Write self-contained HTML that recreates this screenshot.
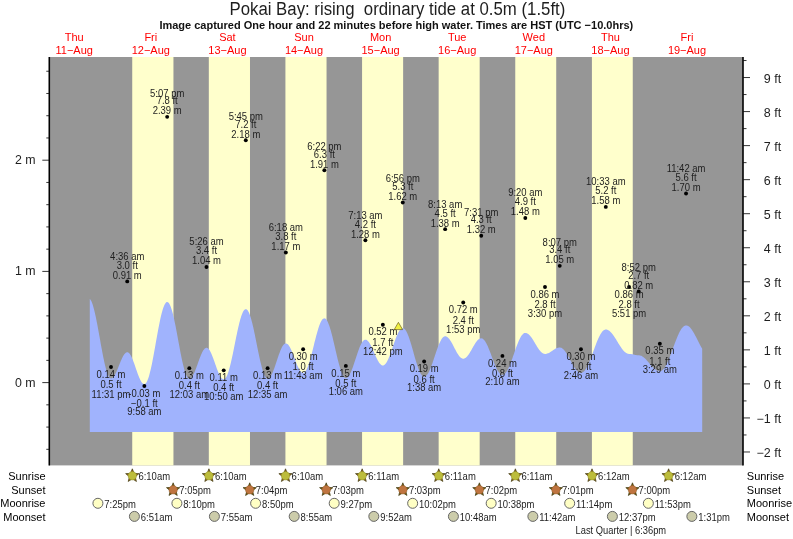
<!DOCTYPE html><html><head><meta charset="utf-8"><style>
html,body{margin:0;padding:0;background:#fff;width:793px;height:539px;overflow:hidden}
svg{display:block;will-change:transform}text{font-family:"Liberation Sans",sans-serif}
</style></head><body>
<svg width="793" height="539" viewBox="0 0 793 539" fill="#1e1e1e">
<rect width="793" height="539" fill="#fff"/>
<text transform="translate(397.40,14.50) scale(1.0,1.04)" font-size="16.8" text-anchor="middle" >Pokai Bay: rising &#160;ordinary tide at 0.5m (1.5ft)</text>
<text x="396.3" y="28.9" font-size="11" font-weight="bold" text-anchor="middle" fill="#111">Image captured One hour and 22 minutes before high water. Times are HST (UTC −10.0hrs)</text>
<text x="74.2" y="41.4" font-size="11" text-anchor="middle" fill="#f00">Thu</text>
<text x="74.2" y="53.9" font-size="11" text-anchor="middle" fill="#f00">11−Aug</text>
<text x="150.8" y="41.4" font-size="11" text-anchor="middle" fill="#f00">Fri</text>
<text x="150.8" y="53.9" font-size="11" text-anchor="middle" fill="#f00">12−Aug</text>
<text x="227.4" y="41.4" font-size="11" text-anchor="middle" fill="#f00">Sat</text>
<text x="227.4" y="53.9" font-size="11" text-anchor="middle" fill="#f00">13−Aug</text>
<text x="304.0" y="41.4" font-size="11" text-anchor="middle" fill="#f00">Sun</text>
<text x="304.0" y="53.9" font-size="11" text-anchor="middle" fill="#f00">14−Aug</text>
<text x="380.6" y="41.4" font-size="11" text-anchor="middle" fill="#f00">Mon</text>
<text x="380.6" y="53.9" font-size="11" text-anchor="middle" fill="#f00">15−Aug</text>
<text x="457.2" y="41.4" font-size="11" text-anchor="middle" fill="#f00">Tue</text>
<text x="457.2" y="53.9" font-size="11" text-anchor="middle" fill="#f00">16−Aug</text>
<text x="533.8" y="41.4" font-size="11" text-anchor="middle" fill="#f00">Wed</text>
<text x="533.8" y="53.9" font-size="11" text-anchor="middle" fill="#f00">17−Aug</text>
<text x="610.4" y="41.4" font-size="11" text-anchor="middle" fill="#f00">Thu</text>
<text x="610.4" y="53.9" font-size="11" text-anchor="middle" fill="#f00">18−Aug</text>
<text x="687.0" y="41.4" font-size="11" text-anchor="middle" fill="#f00">Fri</text>
<text x="687.0" y="53.9" font-size="11" text-anchor="middle" fill="#f00">19−Aug</text>
<rect x="49.3" y="57" width="693.7" height="408.4" fill="#969696"/>
<rect x="132.23" y="57" width="41.22" height="408.4" fill="#ffffcc"/>
<rect x="208.82" y="57" width="41.17" height="408.4" fill="#ffffcc"/>
<rect x="285.42" y="57" width="41.12" height="408.4" fill="#ffffcc"/>
<rect x="362.07" y="57" width="41.06" height="408.4" fill="#ffffcc"/>
<rect x="438.66" y="57" width="41.01" height="408.4" fill="#ffffcc"/>
<rect x="515.26" y="57" width="40.96" height="408.4" fill="#ffffcc"/>
<rect x="591.91" y="57" width="40.85" height="408.4" fill="#ffffcc"/>
<polygon points="89.8,432.0 89.80,298.86 90.30,299.42 90.80,300.17 91.30,301.12 91.80,302.24 92.30,303.55 92.80,305.02 93.30,306.66 93.80,308.45 94.30,310.39 94.80,312.47 95.30,314.67 95.80,316.99 96.30,319.42 96.80,321.94 97.30,324.54 97.80,327.21 98.30,329.93 98.80,332.69 99.30,335.48 99.80,338.29 100.30,341.09 100.80,343.89 101.30,346.65 101.80,349.37 102.30,352.04 102.80,354.64 103.30,357.17 103.80,359.59 104.30,361.92 104.80,364.13 105.30,366.21 105.80,368.15 106.30,369.95 106.80,371.59 107.30,373.07 107.80,374.38 108.30,375.51 108.80,376.45 109.30,377.21 109.80,377.78 110.30,378.16 110.80,378.33 111.30,378.33 111.80,378.20 112.30,377.94 112.80,377.57 113.30,377.08 113.80,376.48 114.30,375.78 114.80,374.98 115.30,374.09 115.80,373.11 116.30,372.06 116.80,370.95 117.30,369.79 117.80,368.58 118.30,367.34 118.80,366.09 119.30,364.82 119.80,363.57 120.30,362.32 120.80,361.11 121.30,359.93 121.80,358.80 122.30,357.74 122.80,356.74 123.30,355.83 123.80,355.00 124.30,354.27 124.80,353.65 125.30,353.13 125.80,352.73 126.30,352.44 126.80,352.28 127.30,352.23 127.80,352.32 128.30,352.54 128.80,352.89 129.30,353.37 129.80,353.98 130.30,354.70 130.80,355.54 131.30,356.48 131.80,357.52 132.30,358.65 132.80,359.86 133.30,361.14 133.80,362.48 134.30,363.87 134.80,365.29 135.30,366.74 135.80,368.20 136.30,369.66 136.80,371.11 137.30,372.53 137.80,373.92 138.30,375.26 138.80,376.53 139.30,377.74 139.80,378.87 140.30,379.91 140.80,380.85 141.30,381.68 141.80,382.40 142.30,383.00 142.80,383.47 143.30,383.82 143.80,384.04 144.30,384.12 144.80,384.04 145.30,383.77 145.80,383.31 146.30,382.65 146.80,381.81 147.30,380.79 147.80,379.59 148.30,378.21 148.80,376.67 149.30,374.97 149.80,373.11 150.30,371.12 150.80,368.99 151.30,366.74 151.80,364.38 152.30,361.92 152.80,359.36 153.30,356.73 153.80,354.04 154.30,351.29 154.80,348.51 155.30,345.70 155.80,342.87 156.30,340.05 156.80,337.24 157.30,334.46 157.80,331.72 158.30,329.04 158.80,326.42 159.30,323.88 159.80,321.43 160.30,319.08 160.80,316.84 161.30,314.74 161.80,312.76 162.30,310.93 162.80,309.25 163.30,307.73 163.80,306.38 164.30,305.20 164.80,304.20 165.30,303.39 165.80,302.76 166.30,302.33 166.80,302.09 167.30,302.04 167.80,302.18 168.30,302.52 168.80,303.05 169.30,303.76 169.80,304.66 170.30,305.74 170.80,307.00 171.30,308.42 171.80,310.01 172.30,311.74 172.80,313.62 173.30,315.64 173.80,317.78 174.30,320.03 174.80,322.39 175.30,324.83 175.80,327.36 176.30,329.95 176.80,332.59 177.30,335.27 177.80,337.98 178.30,340.70 178.80,343.42 179.30,346.12 179.80,348.79 180.30,351.42 180.80,354.00 181.30,356.51 181.80,358.93 182.30,361.26 182.80,363.49 183.30,365.60 183.80,367.58 184.30,369.43 184.80,371.13 185.30,372.67 185.80,374.05 186.30,375.26 186.80,376.30 187.30,377.15 187.80,377.82 188.30,378.30 188.80,378.59 189.30,378.69 189.80,378.63 190.30,378.43 190.80,378.11 191.30,377.67 191.80,377.11 192.30,376.43 192.80,375.64 193.30,374.75 193.80,373.76 194.30,372.68 194.80,371.53 195.30,370.30 195.80,369.02 196.30,367.69 196.80,366.32 197.30,364.92 197.80,363.52 198.30,362.11 198.80,360.71 199.30,359.33 199.80,357.98 200.30,356.68 200.80,355.43 201.30,354.25 201.80,353.14 202.30,352.12 202.80,351.19 203.30,350.36 203.80,349.64 204.30,349.04 204.80,348.55 205.30,348.18 205.80,347.94 206.30,347.83 206.80,347.85 207.30,348.00 207.80,348.28 208.30,348.68 208.80,349.21 209.30,349.86 209.80,350.62 210.30,351.49 210.80,352.46 211.30,353.52 211.80,354.67 212.30,355.89 212.80,357.18 213.30,358.51 213.80,359.89 214.30,361.31 214.80,362.74 215.30,364.17 215.80,365.60 216.30,367.02 216.80,368.41 217.30,369.75 217.80,371.05 218.30,372.28 218.80,373.45 219.30,374.53 219.80,375.52 220.30,376.41 220.80,377.19 221.30,377.86 221.80,378.42 222.30,378.85 222.80,379.15 223.30,379.32 223.80,379.37 224.30,379.25 224.80,378.95 225.30,378.48 225.80,377.84 226.30,377.02 226.80,376.04 227.30,374.90 227.80,373.61 228.30,372.16 228.80,370.58 229.30,368.86 229.80,367.01 230.30,365.05 230.80,362.99 231.30,360.83 231.80,358.59 232.30,356.27 232.80,353.90 233.30,351.47 233.80,349.01 234.30,346.53 234.80,344.03 235.30,341.54 235.80,339.05 236.30,336.60 236.80,334.18 237.30,331.82 237.80,329.51 238.30,327.29 238.80,325.14 239.30,323.10 239.80,321.16 240.30,319.34 240.80,317.65 241.30,316.08 241.80,314.67 242.30,313.40 242.80,312.29 243.30,311.34 243.80,310.55 244.30,309.94 244.80,309.50 245.30,309.24 245.80,309.15 246.30,309.25 246.80,309.52 247.30,309.97 247.80,310.60 248.30,311.40 248.80,312.37 249.30,313.50 249.80,314.79 250.30,316.23 250.80,317.82 251.30,319.54 251.80,321.39 252.30,323.35 252.80,325.42 253.30,327.59 253.80,329.84 254.30,332.16 254.80,334.55 255.30,336.98 255.80,339.45 256.30,341.94 256.80,344.45 257.30,346.95 257.80,349.43 258.30,351.89 258.80,354.30 259.30,356.66 259.80,358.96 260.30,361.18 260.80,363.30 261.30,365.33 261.80,367.25 262.30,369.04 262.80,370.71 263.30,372.23 263.80,373.61 264.30,374.84 264.80,375.90 265.30,376.80 265.80,377.53 266.30,378.08 266.80,378.46 267.30,378.66 267.80,378.68 268.30,378.56 268.80,378.32 269.30,377.94 269.80,377.44 270.30,376.82 270.80,376.08 271.30,375.23 271.80,374.27 272.30,373.22 272.80,372.08 273.30,370.85 273.80,369.56 274.30,368.20 274.80,366.78 275.30,365.33 275.80,363.84 276.30,362.33 276.80,360.82 277.30,359.30 277.80,357.80 278.30,356.32 278.80,354.87 279.30,353.48 279.80,352.14 280.30,350.86 280.80,349.66 281.30,348.54 281.80,347.52 282.30,346.60 282.80,345.78 283.30,345.08 283.80,344.50 284.30,344.03 284.80,343.70 285.30,343.49 285.80,343.41 286.30,343.46 286.80,343.64 287.30,343.93 287.80,344.34 288.30,344.86 288.80,345.49 289.30,346.23 289.80,347.06 290.30,347.99 290.80,349.00 291.30,350.09 291.80,351.24 292.30,352.45 292.80,353.71 293.30,355.01 293.80,356.33 294.30,357.66 294.80,359.00 295.30,360.34 295.80,361.65 296.30,362.94 296.80,364.19 297.30,365.38 297.80,366.52 298.30,367.59 298.80,368.58 299.30,369.49 299.80,370.30 300.30,371.01 300.80,371.62 301.30,372.11 301.80,372.49 302.30,372.76 302.80,372.90 303.30,372.92 303.80,372.79 304.30,372.52 304.80,372.10 305.30,371.53 305.80,370.82 306.30,369.98 306.80,369.00 307.30,367.89 307.80,366.66 308.30,365.32 308.80,363.86 309.30,362.31 309.80,360.67 310.30,358.94 310.80,357.14 311.30,355.28 311.80,353.37 312.30,351.41 312.80,349.42 313.30,347.41 313.80,345.39 314.30,343.37 314.80,341.37 315.30,339.38 315.80,337.43 316.30,335.53 316.80,333.68 317.30,331.90 317.80,330.19 318.30,328.57 318.80,327.04 319.30,325.61 319.80,324.29 320.30,323.09 320.80,322.01 321.30,321.06 321.80,320.24 322.30,319.57 322.80,319.03 323.30,318.65 323.80,318.40 324.30,318.31 324.80,318.38 325.30,318.60 325.80,318.98 326.30,319.51 326.80,320.20 327.30,321.04 327.80,322.02 328.30,323.14 328.80,324.40 329.30,325.78 329.80,327.28 330.30,328.89 330.80,330.61 331.30,332.42 331.80,334.31 332.30,336.28 332.80,338.31 333.30,340.40 333.80,342.52 334.30,344.68 334.80,346.85 335.30,349.04 335.80,351.21 336.30,353.37 336.80,355.50 337.30,357.60 337.80,359.64 338.30,361.62 338.80,363.53 339.30,365.36 339.80,367.10 340.30,368.73 340.80,370.26 341.30,371.66 341.80,372.94 342.30,374.09 342.80,375.10 343.30,375.97 343.80,376.69 344.30,377.25 344.80,377.66 345.30,377.92 345.80,378.01 346.30,377.96 346.80,377.79 347.30,377.49 347.80,377.07 348.30,376.54 348.80,375.88 349.30,375.12 349.80,374.26 350.30,373.29 350.80,372.23 351.30,371.09 351.80,369.86 352.30,368.57 352.80,367.21 353.30,365.80 353.80,364.34 354.30,362.84 354.80,361.32 355.30,359.79 355.80,358.25 356.30,356.71 356.80,355.19 357.30,353.69 357.80,352.22 358.30,350.79 358.80,349.42 359.30,348.11 359.80,346.87 360.30,345.71 360.80,344.63 361.30,343.64 361.80,342.75 362.30,341.97 362.80,341.29 363.30,340.73 363.80,340.29 364.30,339.96 364.80,339.76 365.30,339.68 365.80,339.72 366.30,339.86 366.80,340.11 367.30,340.45 367.80,340.89 368.30,341.43 368.80,342.06 369.30,342.77 369.80,343.55 370.30,344.42 370.80,345.34 371.30,346.33 371.80,347.37 372.30,348.44 372.80,349.56 373.30,350.69 373.80,351.84 374.30,353.00 374.80,354.15 375.30,355.29 375.80,356.41 376.30,357.50 376.80,358.55 377.30,359.54 377.80,360.49 378.30,361.37 378.80,362.18 379.30,362.91 379.80,363.56 380.30,364.12 380.80,364.59 381.30,364.96 381.80,365.23 382.30,365.40 382.80,365.46 383.30,365.42 383.80,365.26 384.30,364.99 384.80,364.60 385.30,364.10 385.80,363.49 386.30,362.79 386.80,361.98 387.30,361.07 387.80,360.08 388.30,359.00 388.80,357.85 389.30,356.63 389.80,355.35 390.30,354.02 390.80,352.64 391.30,351.22 391.80,349.78 392.30,348.31 392.80,346.84 393.30,345.37 393.80,343.91 394.30,342.46 394.80,341.05 395.30,339.67 395.80,338.33 396.30,337.04 396.80,335.82 397.30,334.66 397.80,333.59 398.30,332.59 398.80,331.68 399.30,330.87 399.80,330.15 400.30,329.54 400.80,329.04 401.30,328.64 401.80,328.36 402.30,328.20 402.80,328.15 403.30,328.23 403.80,328.43 404.30,328.77 404.80,329.23 405.30,329.82 405.80,330.53 406.30,331.36 406.80,332.30 407.30,333.35 407.80,334.50 408.30,335.75 408.80,337.09 409.30,338.51 409.80,340.01 410.30,341.57 410.80,343.19 411.30,344.86 411.80,346.58 412.30,348.32 412.80,350.09 413.30,351.86 413.80,353.64 414.30,355.42 414.80,357.18 415.30,358.91 415.80,360.61 416.30,362.26 416.80,363.86 417.30,365.40 417.80,366.86 418.30,368.25 418.80,369.56 419.30,370.77 419.80,371.88 420.30,372.89 420.80,373.79 421.30,374.57 421.80,375.23 422.30,375.77 422.80,376.18 423.30,376.47 423.80,376.62 424.30,376.65 424.80,376.56 425.30,376.35 425.80,376.04 426.30,375.61 426.80,375.08 427.30,374.45 427.80,373.71 428.30,372.88 428.80,371.96 429.30,370.95 429.80,369.86 430.30,368.69 430.80,367.46 431.30,366.16 431.80,364.81 432.30,363.41 432.80,361.98 433.30,360.51 433.80,359.03 434.30,357.52 434.80,356.01 435.30,354.51 435.80,353.01 436.30,351.54 436.80,350.09 437.30,348.68 437.80,347.31 438.30,345.99 438.80,344.73 439.30,343.54 439.80,342.42 440.30,341.38 440.80,340.42 441.30,339.55 441.80,338.77 442.30,338.10 442.80,337.53 443.30,337.06 443.80,336.70 444.30,336.45 444.80,336.32 445.30,336.29 445.80,336.36 446.30,336.51 446.80,336.75 447.30,337.06 447.80,337.45 448.30,337.92 448.80,338.46 449.30,339.07 449.80,339.74 450.30,340.47 450.80,341.26 451.30,342.09 451.80,342.96 452.30,343.86 452.80,344.80 453.30,345.75 453.80,346.71 454.30,347.69 454.80,348.66 455.30,349.62 455.80,350.56 456.30,351.48 456.80,352.38 457.30,353.23 457.80,354.04 458.30,354.80 458.80,355.51 459.30,356.16 459.80,356.74 460.30,357.25 460.80,357.69 461.30,358.05 461.80,358.33 462.30,358.53 462.80,358.65 463.30,358.68 463.80,358.63 464.30,358.50 464.80,358.30 465.30,358.02 465.80,357.68 466.30,357.26 466.80,356.77 467.30,356.22 467.80,355.61 468.30,354.95 468.80,354.24 469.30,353.48 469.80,352.69 470.30,351.87 470.80,351.01 471.30,350.14 471.80,349.26 472.30,348.37 472.80,347.49 473.30,346.61 473.80,345.74 474.30,344.90 474.80,344.08 475.30,343.30 475.80,342.55 476.30,341.86 476.80,341.21 477.30,340.62 477.80,340.09 478.30,339.62 478.80,339.22 479.30,338.89 479.80,338.64 480.30,338.46 480.80,338.35 481.30,338.33 481.80,338.39 482.30,338.56 482.80,338.83 483.30,339.19 483.80,339.65 484.30,340.20 484.80,340.84 485.30,341.57 485.80,342.38 486.30,343.27 486.80,344.23 487.30,345.26 487.80,346.35 488.30,347.50 488.80,348.70 489.30,349.94 489.80,351.22 490.30,352.53 490.80,353.86 491.30,355.21 491.80,356.56 492.30,357.92 492.80,359.27 493.30,360.60 493.80,361.91 494.30,363.19 494.80,364.44 495.30,365.64 495.80,366.80 496.30,367.90 496.80,368.94 497.30,369.91 497.80,370.80 498.30,371.62 498.80,372.36 499.30,373.01 499.80,373.58 500.30,374.05 500.80,374.42 501.30,374.70 501.80,374.88 502.30,374.96 502.80,374.93 503.30,374.81 503.80,374.59 504.30,374.28 504.80,373.86 505.30,373.36 505.80,372.76 506.30,372.07 506.80,371.30 507.30,370.45 507.80,369.51 508.30,368.51 508.80,367.43 509.30,366.30 509.80,365.10 510.30,363.85 510.80,362.56 511.30,361.22 511.80,359.85 512.30,358.45 512.80,357.03 513.30,355.59 513.80,354.15 514.30,352.71 514.80,351.27 515.30,349.84 515.80,348.44 516.30,347.06 516.80,345.71 517.30,344.40 517.80,343.14 518.30,341.92 518.80,340.77 519.30,339.67 519.80,338.65 520.30,337.69 520.80,336.81 521.30,336.01 521.80,335.30 522.30,334.67 522.80,334.14 523.30,333.70 523.80,333.35 524.30,333.10 524.80,332.95 525.30,332.90 525.80,332.93 526.30,333.03 526.80,333.19 527.30,333.42 527.80,333.72 528.30,334.07 528.80,334.49 529.30,334.96 529.80,335.48 530.30,336.06 530.80,336.68 531.30,337.35 531.80,338.05 532.30,338.79 532.80,339.56 533.30,340.35 533.80,341.16 534.30,341.98 534.80,342.82 535.30,343.66 535.80,344.50 536.30,345.33 536.80,346.15 537.30,346.95 537.80,347.72 538.30,348.48 538.80,349.19 539.30,349.88 539.80,350.52 540.30,351.11 540.80,351.66 541.30,352.15 541.80,352.59 542.30,352.97 542.80,353.29 543.30,353.55 543.80,353.74 544.30,353.86 544.80,353.92 545.30,353.92 545.80,353.88 546.30,353.80 546.80,353.69 547.30,353.55 547.80,353.37 548.30,353.16 548.80,352.92 549.30,352.66 549.80,352.38 550.30,352.08 550.80,351.76 551.30,351.43 551.80,351.09 552.30,350.75 552.80,350.41 553.30,350.07 553.80,349.73 554.30,349.41 554.80,349.11 555.30,348.82 555.80,348.55 556.30,348.31 556.80,348.09 557.30,347.91 557.80,347.75 558.30,347.63 558.80,347.55 559.30,347.50 559.80,347.48 560.30,347.53 560.80,347.64 561.30,347.83 561.80,348.08 562.30,348.39 562.80,348.78 563.30,349.22 563.80,349.73 564.30,350.29 564.80,350.90 565.30,351.57 565.80,352.28 566.30,353.04 566.80,353.84 567.30,354.67 567.80,355.53 568.30,356.42 568.80,357.33 569.30,358.25 569.80,359.19 570.30,360.13 570.80,361.07 571.30,362.01 571.80,362.93 572.30,363.84 572.80,364.73 573.30,365.60 573.80,366.44 574.30,367.24 574.80,368.00 575.30,368.73 575.80,369.40 576.30,370.03 576.80,370.60 577.30,371.11 577.80,371.56 578.30,371.96 578.80,372.28 579.30,372.55 579.80,372.74 580.30,372.86 580.80,372.92 581.30,372.90 581.80,372.80 582.30,372.61 582.80,372.33 583.30,371.97 583.80,371.53 584.30,371.01 584.80,370.40 585.30,369.72 585.80,368.97 586.30,368.14 586.80,367.25 587.30,366.30 587.80,365.28 588.30,364.21 588.80,363.08 589.30,361.91 589.80,360.69 590.30,359.44 590.80,358.15 591.30,356.84 591.80,355.50 592.30,354.15 592.80,352.78 593.30,351.41 593.80,350.04 594.30,348.67 594.80,347.32 595.30,345.97 595.80,344.65 596.30,343.36 596.80,342.10 597.30,340.87 597.80,339.68 598.30,338.54 598.80,337.46 599.30,336.42 599.80,335.45 600.30,334.54 600.80,333.69 601.30,332.92 601.80,332.22 602.30,331.59 602.80,331.04 603.30,330.58 603.80,330.19 604.30,329.89 604.80,329.68 605.30,329.55 605.80,329.51 606.30,329.54 606.80,329.62 607.30,329.76 607.80,329.95 608.30,330.20 608.80,330.50 609.30,330.85 609.80,331.25 610.30,331.69 610.80,332.19 611.30,332.72 611.80,333.30 612.30,333.91 612.80,334.56 613.30,335.25 613.80,335.96 614.30,336.70 614.80,337.46 615.30,338.24 615.80,339.04 616.30,339.85 616.80,340.66 617.30,341.48 617.80,342.31 618.30,343.13 618.80,343.94 619.30,344.75 619.80,345.54 620.30,346.31 620.80,347.06 621.30,347.79 621.80,348.49 622.30,349.16 622.80,349.79 623.30,350.39 623.80,350.95 624.30,351.47 624.80,351.94 625.30,352.37 625.80,352.75 626.30,353.07 626.80,353.35 627.30,353.57 627.80,353.74 628.30,353.86 628.80,353.92 629.30,353.93 629.80,353.95 630.30,353.98 630.80,354.03 631.30,354.10 631.80,354.18 632.30,354.27 632.80,354.37 633.30,354.47 633.80,354.58 634.30,354.69 634.80,354.80 635.30,354.91 635.80,355.00 636.30,355.09 636.80,355.16 637.30,355.21 637.80,355.26 638.30,355.28 638.80,355.29 639.30,355.32 639.80,355.39 640.30,355.51 640.80,355.66 641.30,355.87 641.80,356.11 642.30,356.39 642.80,356.71 643.30,357.07 643.80,357.46 644.30,357.88 644.80,358.33 645.30,358.81 645.80,359.32 646.30,359.84 646.80,360.39 647.30,360.95 647.80,361.52 648.30,362.10 648.80,362.69 649.30,363.28 649.80,363.88 650.30,364.47 650.80,365.05 651.30,365.62 651.80,366.18 652.30,366.72 652.80,367.25 653.30,367.75 653.80,368.23 654.30,368.67 654.80,369.09 655.30,369.48 655.80,369.83 656.30,370.15 656.80,370.43 657.30,370.67 657.80,370.87 658.30,371.02 658.80,371.13 659.30,371.20 659.80,371.23 660.30,371.19 660.80,371.08 661.30,370.88 661.80,370.60 662.30,370.24 662.80,369.80 663.30,369.28 663.80,368.69 664.30,368.03 664.80,367.30 665.30,366.49 665.80,365.63 666.30,364.70 666.80,363.71 667.30,362.67 667.80,361.57 668.30,360.43 668.80,359.24 669.30,358.02 669.80,356.76 670.30,355.47 670.80,354.16 671.30,352.82 671.80,351.47 672.30,350.10 672.80,348.73 673.30,347.36 673.80,346.00 674.30,344.64 674.80,343.29 675.30,341.96 675.80,340.66 676.30,339.38 676.80,338.13 677.30,336.93 677.80,335.76 678.30,334.63 678.80,333.56 679.30,332.54 679.80,331.58 680.30,330.67 680.80,329.83 681.30,329.06 681.80,328.35 682.30,327.72 682.80,327.16 683.30,326.67 683.80,326.27 684.30,325.94 684.80,325.70 685.30,325.53 685.80,325.45 686.30,325.44 686.80,325.51 687.30,325.65 687.80,325.85 688.30,326.12 688.80,326.46 689.30,326.85 689.80,327.32 690.30,327.84 690.80,328.41 691.30,329.05 691.80,329.73 692.30,330.46 692.80,331.24 693.30,332.05 693.80,332.91 694.30,333.80 694.80,334.71 695.30,335.65 695.80,336.61 696.30,337.59 696.80,338.58 697.30,339.57 697.80,340.56 698.30,341.56 698.80,342.54 699.30,343.51 699.80,344.46 700.30,345.39 700.80,346.30 701.30,347.17 701.80,348.01 702.20,348.65 702.2,432.0" fill="#a0b3fd"/>
<circle cx="111.00" cy="367.03" r="1.95" fill="#000"/>
<text transform="translate(111.00,377.63) scale(1.0,1.06)" font-size="9.5" text-anchor="middle" >0.14 m</text>
<text transform="translate(111.00,388.13) scale(1.0,1.06)" font-size="9.5" text-anchor="middle" >0.5 ft</text>
<text transform="translate(111.00,397.53) scale(1.0,1.06)" font-size="9.5" text-anchor="middle" >11:31 pm</text>
<circle cx="127.23" cy="281.41" r="1.95" fill="#000"/>
<text transform="translate(127.23,259.81) scale(1.0,1.06)" font-size="9.5" text-anchor="middle" >4:36 am</text>
<text transform="translate(127.23,268.81) scale(1.0,1.06)" font-size="9.5" text-anchor="middle" >3.0 ft</text>
<text transform="translate(127.23,278.81) scale(1.0,1.06)" font-size="9.5" text-anchor="middle" >0.91 m</text>
<circle cx="144.35" cy="385.94" r="1.95" fill="#000"/>
<text transform="translate(144.35,396.54) scale(1.0,1.06)" font-size="9.5" text-anchor="middle" >-0.03 m</text>
<text transform="translate(144.35,407.04) scale(1.0,1.06)" font-size="9.5" text-anchor="middle" >−0.1 ft</text>
<text transform="translate(144.35,415.44) scale(1.0,1.06)" font-size="9.5" text-anchor="middle" >9:58 am</text>
<circle cx="167.17" cy="116.83" r="1.95" fill="#000"/>
<text transform="translate(167.17,96.53) scale(1.0,1.06)" font-size="9.5" text-anchor="middle" >5:07 pm</text>
<text transform="translate(167.17,104.23) scale(1.0,1.06)" font-size="9.5" text-anchor="middle" >7.8 ft</text>
<text transform="translate(167.17,114.23) scale(1.0,1.06)" font-size="9.5" text-anchor="middle" >2.39 m</text>
<circle cx="189.30" cy="368.14" r="1.95" fill="#000"/>
<text transform="translate(189.30,378.74) scale(1.0,1.06)" font-size="9.5" text-anchor="middle" >0.13 m</text>
<text transform="translate(189.30,389.24) scale(1.0,1.06)" font-size="9.5" text-anchor="middle" >0.4 ft</text>
<text transform="translate(189.30,397.64) scale(1.0,1.06)" font-size="9.5" text-anchor="middle" >12:03 am</text>
<circle cx="206.48" cy="266.95" r="1.95" fill="#000"/>
<text transform="translate(206.48,245.35) scale(1.0,1.06)" font-size="9.5" text-anchor="middle" >5:26 am</text>
<text transform="translate(206.48,254.35) scale(1.0,1.06)" font-size="9.5" text-anchor="middle" >3.4 ft</text>
<text transform="translate(206.48,264.35) scale(1.0,1.06)" font-size="9.5" text-anchor="middle" >1.04 m</text>
<circle cx="223.72" cy="370.37" r="1.95" fill="#000"/>
<text transform="translate(223.72,380.97) scale(1.0,1.06)" font-size="9.5" text-anchor="middle" >0.11 m</text>
<text transform="translate(223.72,391.47) scale(1.0,1.06)" font-size="9.5" text-anchor="middle" >0.4 ft</text>
<text transform="translate(223.72,399.87) scale(1.0,1.06)" font-size="9.5" text-anchor="middle" >10:50 am</text>
<circle cx="245.79" cy="140.18" r="1.95" fill="#000"/>
<text transform="translate(245.79,119.88) scale(1.0,1.06)" font-size="9.5" text-anchor="middle" >5:45 pm</text>
<text transform="translate(245.79,127.58) scale(1.0,1.06)" font-size="9.5" text-anchor="middle" >7.2 ft</text>
<text transform="translate(245.79,137.58) scale(1.0,1.06)" font-size="9.5" text-anchor="middle" >2.18 m</text>
<circle cx="267.60" cy="368.14" r="1.95" fill="#000"/>
<text transform="translate(267.60,378.74) scale(1.0,1.06)" font-size="9.5" text-anchor="middle" >0.13 m</text>
<text transform="translate(267.60,389.24) scale(1.0,1.06)" font-size="9.5" text-anchor="middle" >0.4 ft</text>
<text transform="translate(267.60,397.64) scale(1.0,1.06)" font-size="9.5" text-anchor="middle" >12:35 am</text>
<circle cx="285.84" cy="252.50" r="1.95" fill="#000"/>
<text transform="translate(285.84,230.90) scale(1.0,1.06)" font-size="9.5" text-anchor="middle" >6:18 am</text>
<text transform="translate(285.84,239.90) scale(1.0,1.06)" font-size="9.5" text-anchor="middle" >3.8 ft</text>
<text transform="translate(285.84,249.90) scale(1.0,1.06)" font-size="9.5" text-anchor="middle" >1.17 m</text>
<circle cx="303.13" cy="349.24" r="1.95" fill="#000"/>
<text transform="translate(303.13,359.84) scale(1.0,1.06)" font-size="9.5" text-anchor="middle" >0.30 m</text>
<text transform="translate(303.13,370.34) scale(1.0,1.06)" font-size="9.5" text-anchor="middle" >1.0 ft</text>
<text transform="translate(303.13,378.74) scale(1.0,1.06)" font-size="9.5" text-anchor="middle" >11:43 am</text>
<circle cx="324.36" cy="170.21" r="1.95" fill="#000"/>
<text transform="translate(324.36,149.91) scale(1.0,1.06)" font-size="9.5" text-anchor="middle" >6:22 pm</text>
<text transform="translate(324.36,157.61) scale(1.0,1.06)" font-size="9.5" text-anchor="middle" >6.3 ft</text>
<text transform="translate(324.36,167.61) scale(1.0,1.06)" font-size="9.5" text-anchor="middle" >1.91 m</text>
<circle cx="345.84" cy="365.92" r="1.95" fill="#000"/>
<text transform="translate(345.84,376.52) scale(1.0,1.06)" font-size="9.5" text-anchor="middle" >0.15 m</text>
<text transform="translate(345.84,387.02) scale(1.0,1.06)" font-size="9.5" text-anchor="middle" >0.5 ft</text>
<text transform="translate(345.84,395.42) scale(1.0,1.06)" font-size="9.5" text-anchor="middle" >1:06 am</text>
<circle cx="365.37" cy="240.26" r="1.95" fill="#000"/>
<text transform="translate(365.37,218.66) scale(1.0,1.06)" font-size="9.5" text-anchor="middle" >7:13 am</text>
<text transform="translate(365.37,227.66) scale(1.0,1.06)" font-size="9.5" text-anchor="middle" >4.2 ft</text>
<text transform="translate(365.37,237.66) scale(1.0,1.06)" font-size="9.5" text-anchor="middle" >1.28 m</text>
<circle cx="382.87" cy="324.78" r="1.95" fill="#000"/>
<text transform="translate(382.87,335.38) scale(1.0,1.06)" font-size="9.5" text-anchor="middle" >0.52 m</text>
<text transform="translate(382.87,345.88) scale(1.0,1.06)" font-size="9.5" text-anchor="middle" >1.7 ft</text>
<text transform="translate(382.87,355.28) scale(1.0,1.06)" font-size="9.5" text-anchor="middle" >12:42 pm</text>
<circle cx="402.76" cy="202.46" r="1.95" fill="#000"/>
<text transform="translate(402.76,182.16) scale(1.0,1.06)" font-size="9.5" text-anchor="middle" >6:56 pm</text>
<text transform="translate(402.76,189.86) scale(1.0,1.06)" font-size="9.5" text-anchor="middle" >5.3 ft</text>
<text transform="translate(402.76,199.86) scale(1.0,1.06)" font-size="9.5" text-anchor="middle" >1.62 m</text>
<circle cx="424.14" cy="361.47" r="1.95" fill="#000"/>
<text transform="translate(424.14,372.07) scale(1.0,1.06)" font-size="9.5" text-anchor="middle" >0.19 m</text>
<text transform="translate(424.14,382.57) scale(1.0,1.06)" font-size="9.5" text-anchor="middle" >0.6 ft</text>
<text transform="translate(424.14,390.97) scale(1.0,1.06)" font-size="9.5" text-anchor="middle" >1:38 am</text>
<circle cx="445.15" cy="229.14" r="1.95" fill="#000"/>
<text transform="translate(445.15,207.54) scale(1.0,1.06)" font-size="9.5" text-anchor="middle" >8:13 am</text>
<text transform="translate(445.15,216.54) scale(1.0,1.06)" font-size="9.5" text-anchor="middle" >4.5 ft</text>
<text transform="translate(445.15,226.54) scale(1.0,1.06)" font-size="9.5" text-anchor="middle" >1.38 m</text>
<circle cx="463.24" cy="302.54" r="1.95" fill="#000"/>
<text transform="translate(463.24,313.14) scale(1.0,1.06)" font-size="9.5" text-anchor="middle" >0.72 m</text>
<text transform="translate(463.24,323.64) scale(1.0,1.06)" font-size="9.5" text-anchor="middle" >2.4 ft</text>
<text transform="translate(463.24,333.04) scale(1.0,1.06)" font-size="9.5" text-anchor="middle" >1:53 pm</text>
<circle cx="481.22" cy="235.82" r="1.95" fill="#000"/>
<text transform="translate(481.22,215.52) scale(1.0,1.06)" font-size="9.5" text-anchor="middle" >7:31 pm</text>
<text transform="translate(481.22,223.22) scale(1.0,1.06)" font-size="9.5" text-anchor="middle" >4.3 ft</text>
<text transform="translate(481.22,233.22) scale(1.0,1.06)" font-size="9.5" text-anchor="middle" >1.32 m</text>
<circle cx="502.44" cy="355.91" r="1.95" fill="#000"/>
<text transform="translate(502.44,366.51) scale(1.0,1.06)" font-size="9.5" text-anchor="middle" >0.24 m</text>
<text transform="translate(502.44,377.01) scale(1.0,1.06)" font-size="9.5" text-anchor="middle" >0.8 ft</text>
<text transform="translate(502.44,385.41) scale(1.0,1.06)" font-size="9.5" text-anchor="middle" >2:10 am</text>
<circle cx="525.31" cy="218.02" r="1.95" fill="#000"/>
<text transform="translate(525.31,196.42) scale(1.0,1.06)" font-size="9.5" text-anchor="middle" >9:20 am</text>
<text transform="translate(525.31,205.42) scale(1.0,1.06)" font-size="9.5" text-anchor="middle" >4.9 ft</text>
<text transform="translate(525.31,215.42) scale(1.0,1.06)" font-size="9.5" text-anchor="middle" >1.48 m</text>
<circle cx="544.99" cy="286.97" r="1.95" fill="#000"/>
<text transform="translate(544.99,297.57) scale(1.0,1.06)" font-size="9.5" text-anchor="middle" >0.86 m</text>
<text transform="translate(544.99,308.07) scale(1.0,1.06)" font-size="9.5" text-anchor="middle" >2.8 ft</text>
<text transform="translate(544.99,317.47) scale(1.0,1.06)" font-size="9.5" text-anchor="middle" >3:30 pm</text>
<circle cx="559.73" cy="265.84" r="1.95" fill="#000"/>
<text transform="translate(559.73,245.54) scale(1.0,1.06)" font-size="9.5" text-anchor="middle" >8:07 pm</text>
<text transform="translate(559.73,253.24) scale(1.0,1.06)" font-size="9.5" text-anchor="middle" >3.4 ft</text>
<text transform="translate(559.73,263.24) scale(1.0,1.06)" font-size="9.5" text-anchor="middle" >1.05 m</text>
<circle cx="580.95" cy="349.24" r="1.95" fill="#000"/>
<text transform="translate(580.95,359.84) scale(1.0,1.06)" font-size="9.5" text-anchor="middle" >0.30 m</text>
<text transform="translate(580.95,370.34) scale(1.0,1.06)" font-size="9.5" text-anchor="middle" >1.0 ft</text>
<text transform="translate(580.95,378.74) scale(1.0,1.06)" font-size="9.5" text-anchor="middle" >2:46 am</text>
<circle cx="605.79" cy="206.90" r="1.95" fill="#000"/>
<text transform="translate(605.79,185.30) scale(1.0,1.06)" font-size="9.5" text-anchor="middle" >10:33 am</text>
<text transform="translate(605.79,194.30) scale(1.0,1.06)" font-size="9.5" text-anchor="middle" >5.2 ft</text>
<text transform="translate(605.79,204.30) scale(1.0,1.06)" font-size="9.5" text-anchor="middle" >1.58 m</text>
<circle cx="629.09" cy="286.97" r="1.95" fill="#000"/>
<text transform="translate(629.09,297.57) scale(1.0,1.06)" font-size="9.5" text-anchor="middle" >0.86 m</text>
<text transform="translate(629.09,308.07) scale(1.0,1.06)" font-size="9.5" text-anchor="middle" >2.8 ft</text>
<text transform="translate(629.09,317.47) scale(1.0,1.06)" font-size="9.5" text-anchor="middle" >5:51 pm</text>
<circle cx="638.72" cy="291.42" r="1.95" fill="#000"/>
<text transform="translate(638.72,271.12) scale(1.0,1.06)" font-size="9.5" text-anchor="middle" >8:52 pm</text>
<text transform="translate(638.72,278.82) scale(1.0,1.06)" font-size="9.5" text-anchor="middle" >2.7 ft</text>
<text transform="translate(638.72,288.82) scale(1.0,1.06)" font-size="9.5" text-anchor="middle" >0.82 m</text>
<circle cx="659.84" cy="343.68" r="1.95" fill="#000"/>
<text transform="translate(659.84,354.28) scale(1.0,1.06)" font-size="9.5" text-anchor="middle" >0.35 m</text>
<text transform="translate(659.84,364.78) scale(1.0,1.06)" font-size="9.5" text-anchor="middle" >1.1 ft</text>
<text transform="translate(659.84,373.18) scale(1.0,1.06)" font-size="9.5" text-anchor="middle" >3:29 am</text>
<circle cx="686.06" cy="193.56" r="1.95" fill="#000"/>
<text transform="translate(686.06,171.96) scale(1.0,1.06)" font-size="9.5" text-anchor="middle" >11:42 am</text>
<text transform="translate(686.06,180.96) scale(1.0,1.06)" font-size="9.5" text-anchor="middle" >5.6 ft</text>
<text transform="translate(686.06,190.96) scale(1.0,1.06)" font-size="9.5" text-anchor="middle" >1.70 m</text>
<polygon points="398.4,322.3 394.2,329.6 402.6,329.6" fill="#f0f040" stroke="#5a4a10" stroke-width="0.6"/>
<line x1="49.3" y1="57" x2="49.3" y2="465.4" stroke="#000" stroke-width="1.6"/>
<line x1="743" y1="57" x2="743" y2="465.4" stroke="#000" stroke-width="1.6"/>
<line x1="46.3" y1="449.32" x2="49.3" y2="449.32" stroke="#111" stroke-width="0.85"/>
<line x1="46.3" y1="427.08" x2="49.3" y2="427.08" stroke="#111" stroke-width="0.85"/>
<line x1="46.3" y1="404.84" x2="49.3" y2="404.84" stroke="#111" stroke-width="0.85"/>
<line x1="42.3" y1="382.60" x2="49.3" y2="382.60" stroke="#111" stroke-width="0.85"/>
<text transform="translate(35.60,386.60) scale(1.03,1.0)" font-size="12" text-anchor="end" >0 m</text>
<line x1="46.3" y1="360.36" x2="49.3" y2="360.36" stroke="#111" stroke-width="0.85"/>
<line x1="46.3" y1="338.12" x2="49.3" y2="338.12" stroke="#111" stroke-width="0.85"/>
<line x1="46.3" y1="315.88" x2="49.3" y2="315.88" stroke="#111" stroke-width="0.85"/>
<line x1="46.3" y1="293.64" x2="49.3" y2="293.64" stroke="#111" stroke-width="0.85"/>
<line x1="42.3" y1="271.40" x2="49.3" y2="271.40" stroke="#111" stroke-width="0.85"/>
<text transform="translate(35.60,275.40) scale(1.03,1.0)" font-size="12" text-anchor="end" >1 m</text>
<line x1="46.3" y1="249.16" x2="49.3" y2="249.16" stroke="#111" stroke-width="0.85"/>
<line x1="46.3" y1="226.92" x2="49.3" y2="226.92" stroke="#111" stroke-width="0.85"/>
<line x1="46.3" y1="204.68" x2="49.3" y2="204.68" stroke="#111" stroke-width="0.85"/>
<line x1="46.3" y1="182.44" x2="49.3" y2="182.44" stroke="#111" stroke-width="0.85"/>
<line x1="42.3" y1="160.20" x2="49.3" y2="160.20" stroke="#111" stroke-width="0.85"/>
<text transform="translate(35.60,164.20) scale(1.03,1.0)" font-size="12" text-anchor="end" >2 m</text>
<line x1="46.3" y1="137.96" x2="49.3" y2="137.96" stroke="#111" stroke-width="0.85"/>
<line x1="46.3" y1="115.72" x2="49.3" y2="115.72" stroke="#111" stroke-width="0.85"/>
<line x1="46.3" y1="93.48" x2="49.3" y2="93.48" stroke="#111" stroke-width="0.85"/>
<line x1="46.3" y1="71.24" x2="49.3" y2="71.24" stroke="#111" stroke-width="0.85"/>
<line x1="743" y1="451.98" x2="750" y2="451.98" stroke="#111" stroke-width="0.85"/>
<text transform="translate(781.20,457.38) scale(1.04,1.0)" font-size="12" text-anchor="end" >−2 ft</text>
<line x1="743" y1="434.96" x2="746.5" y2="434.96" stroke="#111" stroke-width="0.85"/>
<line x1="743" y1="417.94" x2="750" y2="417.94" stroke="#111" stroke-width="0.85"/>
<text transform="translate(781.20,423.34) scale(1.04,1.0)" font-size="12" text-anchor="end" >−1 ft</text>
<line x1="743" y1="400.92" x2="746.5" y2="400.92" stroke="#111" stroke-width="0.85"/>
<line x1="743" y1="383.90" x2="750" y2="383.90" stroke="#111" stroke-width="0.85"/>
<text transform="translate(781.20,389.30) scale(1.04,1.0)" font-size="12" text-anchor="end" >0 ft</text>
<line x1="743" y1="366.88" x2="746.5" y2="366.88" stroke="#111" stroke-width="0.85"/>
<line x1="743" y1="349.86" x2="750" y2="349.86" stroke="#111" stroke-width="0.85"/>
<text transform="translate(781.20,355.26) scale(1.04,1.0)" font-size="12" text-anchor="end" >1 ft</text>
<line x1="743" y1="332.84" x2="746.5" y2="332.84" stroke="#111" stroke-width="0.85"/>
<line x1="743" y1="315.82" x2="750" y2="315.82" stroke="#111" stroke-width="0.85"/>
<text transform="translate(781.20,321.22) scale(1.04,1.0)" font-size="12" text-anchor="end" >2 ft</text>
<line x1="743" y1="298.80" x2="746.5" y2="298.80" stroke="#111" stroke-width="0.85"/>
<line x1="743" y1="281.78" x2="750" y2="281.78" stroke="#111" stroke-width="0.85"/>
<text transform="translate(781.20,287.18) scale(1.04,1.0)" font-size="12" text-anchor="end" >3 ft</text>
<line x1="743" y1="264.76" x2="746.5" y2="264.76" stroke="#111" stroke-width="0.85"/>
<line x1="743" y1="247.74" x2="750" y2="247.74" stroke="#111" stroke-width="0.85"/>
<text transform="translate(781.20,253.14) scale(1.04,1.0)" font-size="12" text-anchor="end" >4 ft</text>
<line x1="743" y1="230.72" x2="746.5" y2="230.72" stroke="#111" stroke-width="0.85"/>
<line x1="743" y1="213.70" x2="750" y2="213.70" stroke="#111" stroke-width="0.85"/>
<text transform="translate(781.20,219.10) scale(1.04,1.0)" font-size="12" text-anchor="end" >5 ft</text>
<line x1="743" y1="196.68" x2="746.5" y2="196.68" stroke="#111" stroke-width="0.85"/>
<line x1="743" y1="179.66" x2="750" y2="179.66" stroke="#111" stroke-width="0.85"/>
<text transform="translate(781.20,185.06) scale(1.04,1.0)" font-size="12" text-anchor="end" >6 ft</text>
<line x1="743" y1="162.64" x2="746.5" y2="162.64" stroke="#111" stroke-width="0.85"/>
<line x1="743" y1="145.62" x2="750" y2="145.62" stroke="#111" stroke-width="0.85"/>
<text transform="translate(781.20,151.02) scale(1.04,1.0)" font-size="12" text-anchor="end" >7 ft</text>
<line x1="743" y1="128.60" x2="746.5" y2="128.60" stroke="#111" stroke-width="0.85"/>
<line x1="743" y1="111.58" x2="750" y2="111.58" stroke="#111" stroke-width="0.85"/>
<text transform="translate(781.20,116.98) scale(1.04,1.0)" font-size="12" text-anchor="end" >8 ft</text>
<line x1="743" y1="94.56" x2="746.5" y2="94.56" stroke="#111" stroke-width="0.85"/>
<line x1="743" y1="77.54" x2="750" y2="77.54" stroke="#111" stroke-width="0.85"/>
<text transform="translate(781.20,82.94) scale(1.04,1.0)" font-size="12" text-anchor="end" >9 ft</text>
<line x1="743" y1="60.52" x2="746.5" y2="60.52" stroke="#111" stroke-width="0.85"/>
<text x="45.5" y="480.0" font-size="11" text-anchor="end" fill="#000">Sunrise</text>
<text x="746.8" y="480.0" font-size="11" fill="#000">Sunrise</text>
<text x="45.5" y="493.7" font-size="11" text-anchor="end" fill="#000">Sunset</text>
<text x="746.8" y="493.7" font-size="11" fill="#000">Sunset</text>
<text x="45.5" y="507.4" font-size="11" text-anchor="end" fill="#000">Moonrise</text>
<text x="746.8" y="507.4" font-size="11" fill="#000">Moonrise</text>
<text x="45.5" y="520.7" font-size="11" text-anchor="end" fill="#000">Moonset</text>
<text x="746.8" y="520.7" font-size="11" fill="#000">Moonset</text>
<polygon points="132.33,468.80 134.09,473.37 138.98,473.64 135.18,476.73 136.44,481.46 132.33,478.80 128.21,481.46 129.47,476.73 125.67,473.64 130.56,473.37" fill="#9a6a1a" stroke="#3f3a10" stroke-width="0.7"/>
<circle cx="132.33" cy="475.8" r="4.25" fill="#bcbc3c" stroke="#8a8a20" stroke-width="0.4"/>
<text transform="translate(138.43,480.00) scale(1.0,1.1)" font-size="9.5" >6:10am</text>
<polygon points="208.92,468.80 210.69,473.37 215.58,473.64 211.78,476.73 213.04,481.46 208.92,478.80 204.81,481.46 206.07,476.73 202.27,473.64 207.16,473.37" fill="#9a6a1a" stroke="#3f3a10" stroke-width="0.7"/>
<circle cx="208.92" cy="475.8" r="4.25" fill="#bcbc3c" stroke="#8a8a20" stroke-width="0.4"/>
<text transform="translate(215.02,480.00) scale(1.0,1.1)" font-size="9.5" >6:10am</text>
<polygon points="285.52,468.80 287.28,473.37 292.18,473.64 288.37,476.73 289.63,481.46 285.52,478.80 281.40,481.46 282.67,476.73 278.86,473.64 283.76,473.37" fill="#9a6a1a" stroke="#3f3a10" stroke-width="0.7"/>
<circle cx="285.52" cy="475.8" r="4.25" fill="#bcbc3c" stroke="#8a8a20" stroke-width="0.4"/>
<text transform="translate(291.62,480.00) scale(1.0,1.1)" font-size="9.5" >6:10am</text>
<polygon points="362.17,468.80 363.93,473.37 368.83,473.64 365.02,476.73 366.28,481.46 362.17,478.80 358.05,481.46 359.31,476.73 355.51,473.64 360.40,473.37" fill="#9a6a1a" stroke="#3f3a10" stroke-width="0.7"/>
<circle cx="362.17" cy="475.8" r="4.25" fill="#bcbc3c" stroke="#8a8a20" stroke-width="0.4"/>
<text transform="translate(368.27,480.00) scale(1.0,1.1)" font-size="9.5" >6:11am</text>
<polygon points="438.76,468.80 440.53,473.37 445.42,473.64 441.62,476.73 442.88,481.46 438.76,478.80 434.65,481.46 435.91,476.73 432.11,473.64 437.00,473.37" fill="#9a6a1a" stroke="#3f3a10" stroke-width="0.7"/>
<circle cx="438.76" cy="475.8" r="4.25" fill="#bcbc3c" stroke="#8a8a20" stroke-width="0.4"/>
<text transform="translate(444.86,480.00) scale(1.0,1.1)" font-size="9.5" >6:11am</text>
<polygon points="515.36,468.80 517.12,473.37 522.02,473.64 518.21,476.73 519.47,481.46 515.36,478.80 511.25,481.46 512.51,476.73 508.70,473.64 513.60,473.37" fill="#9a6a1a" stroke="#3f3a10" stroke-width="0.7"/>
<circle cx="515.36" cy="475.8" r="4.25" fill="#bcbc3c" stroke="#8a8a20" stroke-width="0.4"/>
<text transform="translate(521.46,480.00) scale(1.0,1.1)" font-size="9.5" >6:11am</text>
<polygon points="592.01,468.80 593.77,473.37 598.67,473.64 594.86,476.73 596.12,481.46 592.01,478.80 587.89,481.46 589.16,476.73 585.35,473.64 590.25,473.37" fill="#9a6a1a" stroke="#3f3a10" stroke-width="0.7"/>
<circle cx="592.01" cy="475.8" r="4.25" fill="#bcbc3c" stroke="#8a8a20" stroke-width="0.4"/>
<text transform="translate(598.11,480.00) scale(1.0,1.1)" font-size="9.5" >6:12am</text>
<polygon points="668.61,468.80 670.37,473.37 675.26,473.64 671.46,476.73 672.72,481.46 668.61,478.80 664.49,481.46 665.75,476.73 661.95,473.64 666.84,473.37" fill="#9a6a1a" stroke="#3f3a10" stroke-width="0.7"/>
<circle cx="668.61" cy="475.8" r="4.25" fill="#bcbc3c" stroke="#8a8a20" stroke-width="0.4"/>
<text transform="translate(674.71,480.00) scale(1.0,1.1)" font-size="9.5" >6:12am</text>
<polygon points="173.15,482.80 174.91,487.37 179.81,487.64 176.00,490.73 177.26,495.46 173.15,492.80 169.04,495.46 170.30,490.73 166.49,487.64 171.39,487.37" fill="#7a5a10" stroke="#3f3a10" stroke-width="0.7"/>
<circle cx="173.15" cy="489.8" r="4.25" fill="#bf7440" stroke="#8a5a20" stroke-width="0.4"/>
<text transform="translate(179.25,493.90) scale(1.0,1.1)" font-size="9.5" >7:05pm</text>
<polygon points="249.69,482.80 251.46,487.37 256.35,487.64 252.55,490.73 253.81,495.46 249.69,492.80 245.58,495.46 246.84,490.73 243.04,487.64 247.93,487.37" fill="#7a5a10" stroke="#3f3a10" stroke-width="0.7"/>
<circle cx="249.69" cy="489.8" r="4.25" fill="#bf7440" stroke="#8a5a20" stroke-width="0.4"/>
<text transform="translate(255.79,493.90) scale(1.0,1.1)" font-size="9.5" >7:04pm</text>
<polygon points="326.24,482.80 328.00,487.37 332.89,487.64 329.09,490.73 330.35,495.46 326.24,492.80 322.12,495.46 323.38,490.73 319.58,487.64 324.47,487.37" fill="#7a5a10" stroke="#3f3a10" stroke-width="0.7"/>
<circle cx="326.24" cy="489.8" r="4.25" fill="#bf7440" stroke="#8a5a20" stroke-width="0.4"/>
<text transform="translate(332.34,493.90) scale(1.0,1.1)" font-size="9.5" >7:03pm</text>
<polygon points="402.83,482.80 404.60,487.37 409.49,487.64 405.69,490.73 406.95,495.46 402.83,492.80 398.72,495.46 399.98,490.73 396.17,487.64 401.07,487.37" fill="#7a5a10" stroke="#3f3a10" stroke-width="0.7"/>
<circle cx="402.83" cy="489.8" r="4.25" fill="#bf7440" stroke="#8a5a20" stroke-width="0.4"/>
<text transform="translate(408.93,493.90) scale(1.0,1.1)" font-size="9.5" >7:03pm</text>
<polygon points="479.37,482.80 481.14,487.37 486.03,487.64 482.23,490.73 483.49,495.46 479.37,492.80 475.26,495.46 476.52,490.73 472.72,487.64 477.61,487.37" fill="#7a5a10" stroke="#3f3a10" stroke-width="0.7"/>
<circle cx="479.37" cy="489.8" r="4.25" fill="#bf7440" stroke="#8a5a20" stroke-width="0.4"/>
<text transform="translate(485.47,493.90) scale(1.0,1.1)" font-size="9.5" >7:02pm</text>
<polygon points="555.92,482.80 557.68,487.37 562.58,487.64 558.77,490.73 560.03,495.46 555.92,492.80 551.80,495.46 553.06,490.73 549.26,487.64 554.15,487.37" fill="#7a5a10" stroke="#3f3a10" stroke-width="0.7"/>
<circle cx="555.92" cy="489.8" r="4.25" fill="#bf7440" stroke="#8a5a20" stroke-width="0.4"/>
<text transform="translate(562.02,493.90) scale(1.0,1.1)" font-size="9.5" >7:01pm</text>
<polygon points="632.46,482.80 634.22,487.37 639.12,487.64 635.31,490.73 636.57,495.46 632.46,492.80 628.35,495.46 629.61,490.73 625.80,487.64 630.70,487.37" fill="#7a5a10" stroke="#3f3a10" stroke-width="0.7"/>
<circle cx="632.46" cy="489.8" r="4.25" fill="#bf7440" stroke="#8a5a20" stroke-width="0.4"/>
<text transform="translate(638.56,493.90) scale(1.0,1.1)" font-size="9.5" >7:00pm</text>
<circle cx="97.92" cy="503.3" r="5.0" fill="#ffffc4" stroke="#666" stroke-width="1.0"/>
<text transform="translate(104.32,508.10) scale(1.0,1.1)" font-size="9.5" >7:25pm</text>
<circle cx="176.91" cy="503.3" r="5.0" fill="#ffffc4" stroke="#666" stroke-width="1.0"/>
<text transform="translate(183.31,508.10) scale(1.0,1.1)" font-size="9.5" >8:10pm</text>
<circle cx="255.63" cy="503.3" r="5.0" fill="#ffffc4" stroke="#666" stroke-width="1.0"/>
<text transform="translate(262.03,508.10) scale(1.0,1.1)" font-size="9.5" >8:50pm</text>
<circle cx="334.20" cy="503.3" r="5.0" fill="#ffffc4" stroke="#666" stroke-width="1.0"/>
<text transform="translate(340.60,508.10) scale(1.0,1.1)" font-size="9.5" >9:27pm</text>
<circle cx="412.65" cy="503.3" r="5.0" fill="#ffffc4" stroke="#666" stroke-width="1.0"/>
<text transform="translate(419.05,508.10) scale(1.0,1.1)" font-size="9.5" >10:02pm</text>
<circle cx="491.16" cy="503.3" r="5.0" fill="#ffffc4" stroke="#666" stroke-width="1.0"/>
<text transform="translate(497.56,508.10) scale(1.0,1.1)" font-size="9.5" >10:38pm</text>
<circle cx="569.68" cy="503.3" r="5.0" fill="#ffffc4" stroke="#666" stroke-width="1.0"/>
<text transform="translate(576.08,508.10) scale(1.0,1.1)" font-size="9.5" >11:14pm</text>
<circle cx="648.35" cy="503.3" r="5.0" fill="#ffffc4" stroke="#666" stroke-width="1.0"/>
<text transform="translate(654.75,508.10) scale(1.0,1.1)" font-size="9.5" >11:53pm</text>
<circle cx="134.41" cy="516.4" r="5.0" fill="#ccccaa" stroke="#666" stroke-width="1.0"/>
<text transform="translate(140.81,520.90) scale(1.0,1.1)" font-size="9.5" >6:51am</text>
<circle cx="214.41" cy="516.4" r="5.0" fill="#ccccaa" stroke="#666" stroke-width="1.0"/>
<text transform="translate(220.81,520.90) scale(1.0,1.1)" font-size="9.5" >7:55am</text>
<circle cx="294.20" cy="516.4" r="5.0" fill="#ccccaa" stroke="#666" stroke-width="1.0"/>
<text transform="translate(300.60,520.90) scale(1.0,1.1)" font-size="9.5" >8:55am</text>
<circle cx="373.82" cy="516.4" r="5.0" fill="#ccccaa" stroke="#666" stroke-width="1.0"/>
<text transform="translate(380.22,520.90) scale(1.0,1.1)" font-size="9.5" >9:52am</text>
<circle cx="453.40" cy="516.4" r="5.0" fill="#ccccaa" stroke="#666" stroke-width="1.0"/>
<text transform="translate(459.80,520.90) scale(1.0,1.1)" font-size="9.5" >10:48am</text>
<circle cx="532.87" cy="516.4" r="5.0" fill="#ccccaa" stroke="#666" stroke-width="1.0"/>
<text transform="translate(539.27,520.90) scale(1.0,1.1)" font-size="9.5" >11:42am</text>
<circle cx="612.39" cy="516.4" r="5.0" fill="#ccccaa" stroke="#666" stroke-width="1.0"/>
<text transform="translate(618.79,520.90) scale(1.0,1.1)" font-size="9.5" >12:37pm</text>
<circle cx="691.86" cy="516.4" r="5.0" fill="#ccccaa" stroke="#666" stroke-width="1.0"/>
<text transform="translate(698.26,520.90) scale(1.0,1.1)" font-size="9.5" >1:31pm</text>
<text transform="translate(575.50,534.40) scale(1.0,1.1)" font-size="9.35" fill="#222">Last Quarter | 6:36pm</text>
</svg></body></html>
